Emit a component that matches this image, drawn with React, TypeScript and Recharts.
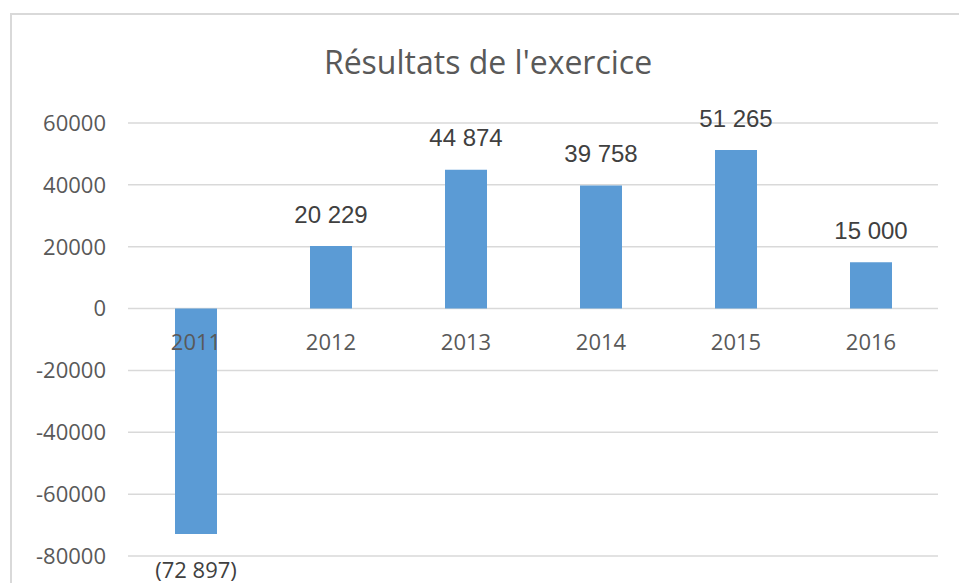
import { Bar, BarChart, CartesianGrid, LabelList, YAxis } from 'recharts'

const years = ['2011', '2012', '2013', '2014', '2015', '2016']
const results = [-72897, 20229, 44874, 39758, 51265, 15000]
const yTicks = [-80000, -60000, -40000, -20000, 0, 20000, 40000, 60000]

const data = years.map((year, i) => ({ year, value: results[i] }))

function formatAmount(v: number): string {
  const s = Math.abs(v)
    .toString()
    .replace(/\B(?=(\d{3})+(?!\d))/g, ' ')
  return v < 0 ? `(${s})` : s
}

// value labels: above positive bars, below negative ones
function ValueLabel(props: any) {
  const { x, y, width, height, value } = props
  const top = Math.min(y, y + height)
  const bottom = Math.max(y, y + height)
  const cx = x + width / 2
  if (value < 0) {
    return (
      <text
        x={cx}
        y={bottom + 35}
        textAnchor="middle"
        dominantBaseline="central"
        fontFamily="'Open Sans', sans-serif"
        fontSize={22}
        fill="#404040"
      >
        {formatAmount(value)}
      </text>
    )
  }
  return (
    <text
      x={cx}
      y={top - 32}
      textAnchor="middle"
      dominantBaseline="central"
      fontFamily="'Liberation Sans', Arial, sans-serif"
      fontSize={24}
      fill="#404040"
    >
      {formatAmount(value)}
    </text>
  )
}

// category labels sit just under the zero line, like Excel does
function CategoryLabel(props: any) {
  const { x, y, width, height, value, index } = props
  const zero = results[index] >= 0 ? Math.max(y, y + height) : Math.min(y, y + height)
  return (
    <text
      x={x + width / 2}
      y={zero + 32}
      textAnchor="middle"
      dominantBaseline="central"
      fontFamily="'Open Sans', sans-serif"
      fontSize={22}
      fill="#595959"
    >
      {value}
    </text>
  )
}

export default function App() {
  return (
    <div style={{ position: 'absolute', left: 0, top: 0, width: 959, height: 583, background: '#fff', overflow: 'hidden' }}>
      <div
        style={{
          position: 'absolute',
          left: 10,
          top: 13,
          width: 980,
          height: 600,
          border: '2px solid #d9d9d9',
          boxSizing: 'border-box',
        }}
      />
      <div
        style={{
          position: 'absolute',
          left: 0,
          width: 976,
          top: 39,
          textAlign: 'center',
          fontFamily: "'Open Sans', sans-serif",
          fontSize: 32,
          color: '#595959',
          lineHeight: '46px',
        }}
      >
        Résultats de l'exercice
      </div>
      <div style={{ position: 'absolute', left: 0, top: 0 }}>
        <BarChart
          width={959}
          height={583}
          data={data}
          margin={{ top: 123, right: 21, bottom: 27, left: 0 }}
        >
          <CartesianGrid vertical={false} stroke="#d9d9d9" strokeWidth={1.5} />
          <YAxis
            domain={[-80000, 60000]}
            ticks={yTicks}
            width={128}
            axisLine={false}
            tickLine={false}
            tickSize={0}
            tickMargin={22}
            interval={0}
            tick={{ fontSize: 22, fill: '#595959', fontFamily: "'Open Sans', sans-serif" }}
          />
          <Bar dataKey="value" fill="#5B9BD5" barSize={42} isAnimationActive={false}>
            <LabelList dataKey="year" content={CategoryLabel} />
            <LabelList dataKey="value" content={ValueLabel} />
          </Bar>
        </BarChart>
      </div>
    </div>
  )
}
